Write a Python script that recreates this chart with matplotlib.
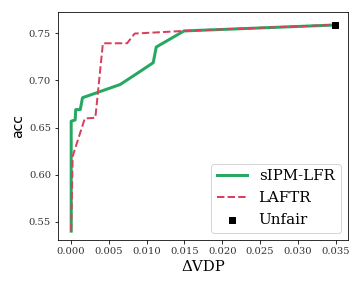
import numpy as np
import matplotlib
matplotlib.use("Agg")
import matplotlib.pyplot as plt

# values
sipm_vdp = [0.0, 0.0, 0.00053, 0.0006, 0.0012, 0.0015, 0.0065, 0.0092, 0.01086, 0.01126, 0.01494, 0.0349]
sipm_acc = [0.54, 0.6567, 0.658, 0.669, 0.669, 0.6816, 0.6957, 0.7099, 0.7188, 0.7354, 0.7525, 0.7588]

laftr_vdp = [0.0, 0.0002, 0.0018, 0.0032, 0.0042, 0.0074, 0.0084, 0.0149, 0.0349]
laftr_acc = [0.54, 0.6195, 0.6596, 0.6603, 0.7394, 0.7394, 0.7497, 0.7525, 0.759]

unfair_vdp = [0.0349]
unfair_acc = [0.759]


def main():
    fig = plt.figure(figsize=(5, 4), dpi=72)
    ax = fig.add_axes([58/360, 1 - 240/288, 290/360, 228/288])

    ax.plot(sipm_vdp, sipm_acc, color='#27a862', linewidth=3, label='sIPM-LFR')
    ax.plot(laftr_vdp, laftr_acc, color='#d8405f', linewidth=2, linestyle='--', label='LAFTR')
    ax.scatter(unfair_vdp, unfair_acc, color='black', marker='s', s=40, zorder=5, label='Unfair')

    ax.set_ylim(0.5306, 0.7726)
    ax.set_xticks(np.arange(0, 0.0351, 0.005))
    ax.set_yticks([0.55, 0.60, 0.65, 0.70, 0.75])
    for lab in ax.get_xticklabels() + ax.get_yticklabels():
        lab.set_family('DejaVu Serif')
        lab.set_fontsize(10)
        lab.set_color('#333333')

    ax.set_xlabel('ΔVDP', family='DejaVu Serif', fontsize=15)
    ax.set_ylabel('acc', fontsize=14)

    ax.legend(loc='lower right', prop={'family': 'DejaVu Serif', 'size': 15})

    fig.savefig('out.png', dpi=72)


if __name__ == "__main__":
    main()
